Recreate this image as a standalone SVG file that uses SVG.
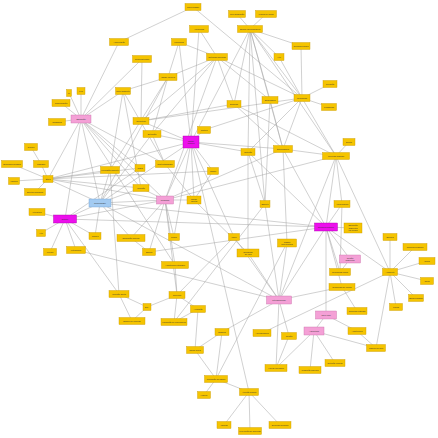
<svg xmlns="http://www.w3.org/2000/svg" width="438" height="438" viewBox="0 0 438 438">
<style>
rect{stroke-width:0.4}
.y rect{fill:#f5c400;stroke:#c99a00}
.p rect{fill:#f4a0d6;stroke:#c870a8}
.m rect{fill:#ec10ec;stroke:#a800a8}
.b rect{fill:#a3cbf2;stroke:#6f9ed0}
text{font-family:"Liberation Sans",Arial,sans-serif;font-size:2.1px;fill:#333;text-anchor:middle}
#edges line{stroke:#a3a3a3;stroke-width:0.5}
</style>
<rect width="438" height="438" fill="#fff" stroke="none"/>
<g id="edges">
<line x1="193" y1="7" x2="119" y2="42"/><line x1="193" y1="7" x2="302" y2="98"/>
<line x1="237" y1="14" x2="250" y2="29"/><line x1="266" y1="14" x2="250" y2="29"/>
<line x1="250" y1="29" x2="234" y2="104"/><line x1="250" y1="29" x2="270" y2="100"/><line x1="250" y1="29" x2="302" y2="98"/><line x1="250" y1="29" x2="248" y2="152"/><line x1="250" y1="29" x2="283" y2="149"/><line x1="250" y1="29" x2="265" y2="204"/><line x1="250" y1="29" x2="191" y2="142"/><line x1="250" y1="29" x2="336" y2="156"/><line x1="250" y1="29" x2="301" y2="46"/><line x1="250" y1="29" x2="279" y2="57"/>
<line x1="199" y1="29" x2="217" y2="57"/><line x1="199" y1="29" x2="191" y2="142"/>
<line x1="179" y1="42" x2="217" y2="57"/><line x1="179" y1="42" x2="168" y2="77"/><line x1="179" y1="42" x2="191" y2="142"/>
<line x1="217" y1="57" x2="168" y2="77"/><line x1="217" y1="57" x2="302" y2="98"/><line x1="217" y1="57" x2="270" y2="100"/><line x1="217" y1="57" x2="234" y2="104"/><line x1="217" y1="57" x2="141" y2="121"/><line x1="217" y1="57" x2="152" y2="134"/><line x1="217" y1="57" x2="165" y2="200"/>
<line x1="279" y1="57" x2="302" y2="98"/><line x1="301" y1="46" x2="302" y2="98"/><line x1="330" y1="84" x2="302" y2="98"/><line x1="329" y1="107" x2="302" y2="98"/>
<line x1="302" y1="98" x2="248" y2="152"/><line x1="302" y1="98" x2="283" y2="149"/><line x1="302" y1="98" x2="336" y2="156"/><line x1="302" y1="98" x2="204" y2="130"/><line x1="302" y1="98" x2="141" y2="121"/>
<line x1="142" y1="59" x2="141" y2="121"/><line x1="142" y1="59" x2="81" y2="119"/>
<line x1="168" y1="77" x2="123" y2="91"/><line x1="168" y1="77" x2="152" y2="134"/><line x1="168" y1="77" x2="110" y2="170"/><line x1="168" y1="77" x2="100" y2="203"/>
<line x1="123" y1="91" x2="81" y2="119"/><line x1="123" y1="91" x2="110" y2="170"/><line x1="123" y1="91" x2="165" y2="164"/><line x1="123" y1="91" x2="141" y2="188"/>
<line x1="69" y1="93" x2="81" y2="119"/><line x1="81" y1="91" x2="81" y2="119"/><line x1="61" y1="103" x2="81" y2="119"/><line x1="119" y1="42" x2="81" y2="119"/>
<line x1="81" y1="119" x2="57" y2="122"/><line x1="81" y1="119" x2="48" y2="179"/><line x1="81" y1="119" x2="100" y2="203"/><line x1="81" y1="119" x2="165" y2="200"/><line x1="81" y1="119" x2="65" y2="219"/><line x1="81" y1="119" x2="141" y2="188"/><line x1="81" y1="119" x2="140" y2="168"/><line x1="81" y1="119" x2="165" y2="164"/><line x1="81" y1="119" x2="175" y2="265"/>
<line x1="141" y1="121" x2="191" y2="142"/><line x1="141" y1="121" x2="234" y2="104"/>
<line x1="152" y1="134" x2="191" y2="142"/><line x1="152" y1="134" x2="165" y2="164"/><line x1="152" y1="134" x2="100" y2="203"/>
<line x1="204" y1="130" x2="191" y2="142"/>
<line x1="191" y1="142" x2="248" y2="152"/><line x1="191" y1="142" x2="283" y2="149"/><line x1="191" y1="142" x2="165" y2="200"/><line x1="191" y1="142" x2="194" y2="200"/><line x1="191" y1="142" x2="100" y2="203"/><line x1="191" y1="142" x2="48" y2="179"/><line x1="191" y1="142" x2="213" y2="171"/><line x1="191" y1="142" x2="249" y2="392"/><line x1="191" y1="142" x2="174" y2="237"/>
<line x1="234" y1="104" x2="336" y2="156"/><line x1="234" y1="104" x2="283" y2="149"/>
<line x1="270" y1="100" x2="283" y2="149"/><line x1="270" y1="100" x2="265" y2="204"/>
<line x1="248" y1="152" x2="265" y2="204"/><line x1="248" y1="152" x2="248" y2="253"/><line x1="248" y1="152" x2="326" y2="227"/>
<line x1="283" y1="149" x2="336" y2="156"/><line x1="283" y1="149" x2="165" y2="200"/><line x1="283" y1="149" x2="287" y2="243"/><line x1="283" y1="149" x2="326" y2="227"/>
<line x1="349" y1="142" x2="336" y2="156"/>
<line x1="336" y1="156" x2="326" y2="227"/><line x1="336" y1="156" x2="390" y2="272"/><line x1="336" y1="156" x2="342" y2="204"/><line x1="336" y1="156" x2="279" y2="300"/><line x1="336" y1="156" x2="165" y2="200"/>
<line x1="31" y1="147" x2="41" y2="164"/><line x1="12" y1="164" x2="48" y2="179"/><line x1="41" y1="164" x2="48" y2="179"/><line x1="14" y1="181" x2="48" y2="179"/><line x1="35" y1="192" x2="48" y2="179"/>
<line x1="48" y1="179" x2="100" y2="203"/><line x1="48" y1="179" x2="165" y2="200"/><line x1="48" y1="179" x2="141" y2="188"/><line x1="48" y1="179" x2="140" y2="168"/><line x1="48" y1="179" x2="110" y2="170"/><line x1="48" y1="179" x2="213" y2="171"/>
<line x1="110" y1="170" x2="100" y2="203"/><line x1="110" y1="170" x2="119" y2="294"/>
<line x1="141" y1="188" x2="100" y2="203"/><line x1="141" y1="188" x2="165" y2="200"/>
<line x1="100" y1="203" x2="65" y2="219"/><line x1="100" y1="203" x2="95" y2="236"/><line x1="100" y1="203" x2="131" y2="238"/><line x1="100" y1="203" x2="165" y2="200"/><line x1="100" y1="203" x2="279" y2="300"/><line x1="100" y1="203" x2="326" y2="227"/>
<line x1="165" y1="200" x2="194" y2="200"/><line x1="165" y1="200" x2="175" y2="265"/><line x1="165" y1="200" x2="131" y2="238"/><line x1="165" y1="200" x2="177" y2="295"/><line x1="165" y1="200" x2="174" y2="237"/><line x1="165" y1="200" x2="149" y2="252"/>
<line x1="265" y1="204" x2="279" y2="300"/><line x1="265" y1="204" x2="174" y2="322"/>
<line x1="342" y1="204" x2="340" y2="272"/><line x1="342" y1="204" x2="326" y2="227"/>
<line x1="37" y1="212" x2="65" y2="219"/>
<line x1="65" y1="219" x2="41" y2="233"/><line x1="65" y1="219" x2="50" y2="252"/><line x1="65" y1="219" x2="76" y2="250"/><line x1="65" y1="219" x2="95" y2="236"/><line x1="65" y1="219" x2="326" y2="227"/><line x1="65" y1="219" x2="140" y2="168"/><line x1="65" y1="219" x2="165" y2="200"/><line x1="65" y1="219" x2="119" y2="294"/>
<line x1="326" y1="227" x2="353" y2="228"/><line x1="326" y1="227" x2="350" y2="259"/><line x1="326" y1="227" x2="340" y2="272"/><line x1="326" y1="227" x2="390" y2="272"/><line x1="326" y1="227" x2="326" y2="315"/><line x1="326" y1="227" x2="342" y2="287"/><line x1="326" y1="227" x2="279" y2="300"/><line x1="326" y1="227" x2="149" y2="252"/>
<line x1="131" y1="238" x2="149" y2="252"/>
<line x1="234" y1="237" x2="191" y2="142"/><line x1="234" y1="237" x2="279" y2="300"/><line x1="234" y1="237" x2="177" y2="295"/>
<line x1="287" y1="243" x2="279" y2="300"/><line x1="287" y1="243" x2="216" y2="379"/>
<line x1="248" y1="253" x2="279" y2="300"/><line x1="248" y1="253" x2="194" y2="200"/>
<line x1="76" y1="250" x2="279" y2="300"/>
<line x1="175" y1="265" x2="177" y2="295"/>
<line x1="390" y1="237" x2="390" y2="272"/><line x1="415" y1="247" x2="390" y2="272"/><line x1="427" y1="261" x2="390" y2="272"/><line x1="427" y1="281" x2="390" y2="272"/><line x1="416" y1="298" x2="390" y2="272"/><line x1="396" y1="307" x2="390" y2="272"/>
<line x1="350" y1="259" x2="340" y2="272"/>
<line x1="390" y1="272" x2="262" y2="333"/><line x1="390" y1="272" x2="376" y2="348"/>
<line x1="342" y1="287" x2="279" y2="300"/><line x1="342" y1="287" x2="357" y2="311"/>
<line x1="119" y1="294" x2="147" y2="307"/><line x1="119" y1="294" x2="132" y2="321"/>
<line x1="147" y1="307" x2="132" y2="321"/><line x1="147" y1="307" x2="177" y2="295"/>
<line x1="177" y1="295" x2="174" y2="322"/><line x1="177" y1="295" x2="198" y2="309"/>
<line x1="198" y1="309" x2="174" y2="322"/><line x1="198" y1="309" x2="195" y2="350"/>
<line x1="222" y1="332" x2="195" y2="350"/><line x1="222" y1="332" x2="216" y2="379"/><line x1="222" y1="332" x2="279" y2="300"/>
<line x1="289" y1="336" x2="279" y2="300"/><line x1="289" y1="336" x2="276" y2="368"/>
<line x1="314" y1="331" x2="335" y2="363"/><line x1="314" y1="331" x2="310" y2="370"/><line x1="314" y1="331" x2="376" y2="348"/><line x1="314" y1="331" x2="276" y2="368"/><line x1="314" y1="331" x2="326" y2="315"/>
<line x1="357" y1="331" x2="376" y2="348"/><line x1="357" y1="331" x2="326" y2="315"/>
<line x1="195" y1="350" x2="216" y2="379"/>
<line x1="216" y1="379" x2="204" y2="395"/><line x1="216" y1="379" x2="249" y2="392"/>
<line x1="249" y1="392" x2="224" y2="425"/><line x1="249" y1="392" x2="250" y2="431"/><line x1="249" y1="392" x2="280" y2="425"/>
<line x1="276" y1="368" x2="279" y2="300"/>
<line x1="165" y1="164" x2="194" y2="200"/><line x1="213" y1="171" x2="194" y2="200"/>
</g>
<g id="a1" class="y"><rect x="185" y="3.5" width="16" height="7"/><text x="193" y="7.75">Universidade</text></g>
<g id="a2" class="y"><rect x="228.5" y="10.5" width="17" height="7"/><text x="237" y="14.75">Pós-graduação</text></g>
<g id="a3" class="y"><rect x="255.5" y="10.5" width="21" height="7"/><text x="266" y="14.75">Língua de sinais</text></g>
<g id="a4" class="y"><rect x="237.5" y="25.5" width="25" height="7"/><text x="250" y="29.75">Ensino-aprendizagem</text></g>
<g id="a5" class="y"><rect x="189.5" y="25.5" width="19" height="7"/><text x="199" y="29.75">Agronomia</text></g>
<g id="a6" class="y"><rect x="109.5" y="38.5" width="19" height="7"/><text x="119" y="42.75">Alimentação</text></g>
<g id="a7" class="y"><rect x="171.5" y="38.5" width="15" height="7"/><text x="179" y="42.75">Psicologia</text></g>
<g id="a8" class="y"><rect x="132.5" y="55.5" width="19" height="7"/><text x="142" y="59.75">Cooperativismo</text></g>
<g id="a9" class="y"><rect x="206.5" y="53.5" width="21" height="7"/><text x="217" y="57.75">Sistemas agrícolas</text></g>
<g id="a10" class="y"><rect x="274" y="53.5" width="10" height="7"/><text x="279" y="57.75">Arte</text></g>
<g id="a11" class="y"><rect x="292" y="42.5" width="18" height="7"/><text x="301" y="46.75">Ciências sociais</text></g>
<g id="a12" class="y"><rect x="159" y="73.5" width="18" height="7"/><text x="168" y="77.75">Saúde coletiva</text></g>
<g id="a13" class="y"><rect x="115.5" y="87.5" width="15" height="7"/><text x="123" y="91.75">Meio ambiente</text></g>
<g id="a14" class="y"><rect x="66.5" y="89.5" width="5" height="7"/><text x="69" y="93.75">TI</text></g>
<g id="a15" class="y"><rect x="77" y="87.5" width="8" height="7"/><text x="81" y="91.75">Lixo</text></g>
<g id="a16" class="y"><rect x="52" y="99.5" width="18" height="7"/><text x="61" y="103.75">Comunicação</text></g>
<g id="a17" class="p"><rect x="71" y="115" width="20" height="8"/><text x="81" y="119.75">Educação</text></g>
<g id="a18" class="y"><rect x="48.5" y="118.5" width="17" height="7"/><text x="57" y="122.75">Cidadania</text></g>
<g id="a19" class="y"><rect x="133" y="117.5" width="16" height="7"/><text x="141" y="121.75">Juventude</text></g>
<g id="a20" class="y"><rect x="143" y="130.5" width="18" height="7"/><text x="152" y="134.75">Extensão</text></g>
<g id="a21" class="y"><rect x="197.5" y="126.5" width="13" height="7"/><text x="204" y="130.75">Cultura</text></g>
<g id="a22" class="m"><rect x="183" y="136" width="16" height="12"/><text x="191" y="141.5">Saúde</text><text x="191" y="144">pública</text></g>
<g id="a23" class="y"><rect x="227" y="100.5" width="14" height="7"/><text x="234" y="104.75">Ecologia</text></g>
<g id="a24" class="y"><rect x="262" y="96.5" width="16" height="7"/><text x="270" y="100.75">Engenharia</text></g>
<g id="a25" class="y"><rect x="294" y="94.5" width="16" height="7"/><text x="302" y="98.75">Tecnologia</text></g>
<g id="a26" class="y"><rect x="323" y="80.5" width="14" height="7"/><text x="330" y="84.75">Inovação</text></g>
<g id="a27" class="y"><rect x="321.5" y="103.5" width="15" height="7"/><text x="329" y="107.75">Pedagogia</text></g>
<g id="a28" class="y"><rect x="241" y="148.5" width="14" height="7"/><text x="248" y="152.75">Nutrição</text></g>
<g id="a29" class="y"><rect x="273.5" y="145.5" width="19" height="7"/><text x="283" y="149.75">Enfermagem</text></g>
<g id="a30" class="y"><rect x="343" y="138.5" width="12" height="7"/><text x="349" y="142.75">Direito</text></g>
<g id="a31" class="y"><rect x="322.5" y="152.5" width="27" height="7"/><text x="336" y="156.75">Políticas públicas</text></g>
<g id="a32" class="y"><rect x="24.5" y="143.5" width="13" height="7"/><text x="31" y="147.75">Gênero</text></g>
<g id="a33" class="y"><rect x="1.5" y="160.5" width="21" height="7"/><text x="12" y="164.75">Economia solidária</text></g>
<g id="a34" class="y"><rect x="33.5" y="160.5" width="15" height="7"/><text x="41" y="164.75">Trabalho</text></g>
<g id="a35" class="y"><rect x="155.5" y="160.5" width="19" height="7"/><text x="165" y="164.75">Sustentabilidade</text></g>
<g id="a36" class="y"><rect x="207.5" y="167.5" width="11" height="7"/><text x="213" y="171.75">Idosos</text></g>
<g id="a37" class="y"><rect x="135" y="164.5" width="10" height="7"/><text x="140" y="168.75">Mídia</text></g>
<g id="a38" class="y"><rect x="100.5" y="166.5" width="19" height="7"/><text x="110" y="170.75">Formação docente</text></g>
<g id="a39" class="y"><rect x="43" y="175.5" width="10" height="7"/><text x="48" y="179.75">Ética</text></g>
<g id="a40" class="y"><rect x="8.5" y="177.5" width="11" height="7"/><text x="14" y="181.75">Família</text></g>
<g id="a41" class="y"><rect x="24.5" y="188.5" width="21" height="7"/><text x="35" y="192.75">Direitos humanos</text></g>
<g id="a42" class="y"><rect x="133" y="184.5" width="16" height="7"/><text x="141" y="188.75">Inclusão</text></g>
<g id="a43" class="b"><rect x="89" y="199" width="22" height="8"/><text x="100" y="203.75">Comunidade</text></g>
<g id="a44" class="p"><rect x="156.5" y="196" width="17" height="8"/><text x="165" y="200.75">Pesquisa</text></g>
<g id="a45" class="y"><rect x="187" y="196" width="14" height="8"/><text x="194" y="199.5">Saúde</text><text x="194" y="202">mental</text></g>
<g id="a46" class="y"><rect x="260" y="200.5" width="10" height="7"/><text x="265" y="204.75">Esporte</text></g>
<g id="a47" class="y"><rect x="334" y="200.5" width="16" height="7"/><text x="342" y="204.75">Agroecologia</text></g>
<g id="a48" class="y"><rect x="29" y="208.5" width="16" height="7"/><text x="37" y="212.75">Literatura</text></g>
<g id="a49" class="m"><rect x="53.5" y="215" width="23" height="8"/><text x="65" y="219.75">Ensino</text></g>
<g id="a50" class="m"><rect x="314.5" y="223" width="23" height="8"/><text x="326" y="227.75">Desenvolvimento</text></g>
<g id="a51" class="y"><rect x="344" y="223" width="18" height="10"/><text x="353" y="226.25">Educação</text><text x="353" y="228.75">ambiental</text><text x="353" y="231.25">na escola</text></g>
<g id="a52" class="y"><rect x="36.5" y="229.5" width="9" height="7"/><text x="41" y="233.75">Arte</text></g>
<g id="a53" class="y"><rect x="89" y="232.5" width="12" height="7"/><text x="95" y="236.75">Música</text></g>
<g id="a54" class="y"><rect x="117" y="234.5" width="28" height="7"/><text x="131" y="238.75">Educação popular</text></g>
<g id="a55" class="y"><rect x="168.5" y="233.5" width="11" height="7"/><text x="174" y="237.75">Teatro</text></g>
<g id="a56" class="y"><rect x="228.5" y="233.5" width="11" height="7"/><text x="234" y="237.75">Lazer</text></g>
<g id="a57" class="y"><rect x="277.5" y="239" width="19" height="8"/><text x="287" y="242.5">Cidade</text><text x="287" y="245">Universitária</text></g>
<g id="a58" class="y"><rect x="237" y="249" width="22" height="8"/><text x="248" y="252.5">Qualidade</text><text x="248" y="255">de vida</text></g>
<g id="a59" class="y"><rect x="43.5" y="248.5" width="13" height="7"/><text x="50" y="252.75">Leitura</text></g>
<g id="a60" class="y"><rect x="66.5" y="246.5" width="19" height="7"/><text x="76" y="250.75">Letramento</text></g>
<g id="a61" class="y"><rect x="142.5" y="248.5" width="13" height="7"/><text x="149" y="252.75">Escola</text></g>
<g id="a62" class="y"><rect x="161.5" y="261.5" width="27" height="7"/><text x="175" y="265.75">Assistência estudantil</text></g>
<g id="a63" class="y"><rect x="383" y="233.5" width="14" height="7"/><text x="390" y="237.75">Energia</text></g>
<g id="a64" class="y"><rect x="403" y="243.5" width="24" height="7"/><text x="415" y="247.75">Recursos hídricos</text></g>
<g id="a65" class="y"><rect x="419" y="257.5" width="16" height="7"/><text x="427" y="261.75">Clima</text></g>
<g id="a66" class="p"><rect x="339.5" y="255" width="21" height="8"/><text x="350" y="258.5">Gestão</text><text x="350" y="261">ambiental</text></g>
<g id="a67" class="y"><rect x="329.5" y="268.5" width="21" height="7"/><text x="340" y="272.75">Tecnologia social</text></g>
<g id="a68" class="y"><rect x="382.5" y="268.5" width="15" height="7"/><text x="390" y="272.75">Ambiente</text></g>
<g id="a69" class="y"><rect x="420.5" y="277.5" width="13" height="7"/><text x="427" y="281.75">Solos</text></g>
<g id="a70" class="y"><rect x="329" y="283.5" width="26" height="7"/><text x="342" y="287.75">Tecnologia de ensino</text></g>
<g id="a71" class="y"><rect x="408.5" y="294.5" width="15" height="7"/><text x="416" y="298.75">Biodiversidade</text></g>
<g id="a72" class="y"><rect x="109" y="290.5" width="20" height="7"/><text x="119" y="294.75">Inclusão digital</text></g>
<g id="a73" class="y"><rect x="169" y="291.5" width="16" height="7"/><text x="177" y="295.75">Currículo</text></g>
<g id="a74" class="p"><rect x="266.5" y="296" width="25" height="8"/><text x="279" y="300.75">Interdisciplinar</text></g>
<g id="a75" class="y"><rect x="190.5" y="305.5" width="15" height="7"/><text x="198" y="309.75">Avaliação</text></g>
<g id="a76" class="y"><rect x="389.5" y="303.5" width="13" height="7"/><text x="396" y="307.75">Fauna</text></g>
<g id="a77" class="y"><rect x="143" y="303.5" width="8" height="7"/><text x="147" y="307.75">EJA</text></g>
<g id="a78" class="y"><rect x="347" y="307.5" width="20" height="7"/><text x="357" y="311.75">Recursos naturais</text></g>
<g id="a79" class="p"><rect x="315.5" y="311" width="21" height="8"/><text x="326" y="315.75">Meio rural</text></g>
<g id="a80" class="y"><rect x="119" y="317.5" width="26" height="7"/><text x="132" y="321.75">Ensino de ciências</text></g>
<g id="a81" class="y"><rect x="161" y="318.5" width="26" height="7"/><text x="174" y="322.75">Formação de professores</text></g>
<g id="a82" class="y"><rect x="215" y="328.5" width="14" height="7"/><text x="222" y="332.75">Didática</text></g>
<g id="a83" class="y"><rect x="253" y="329.5" width="18" height="7"/><text x="262" y="333.75">Aprendizagem</text></g>
<g id="a84" class="y"><rect x="281.5" y="332.5" width="15" height="7"/><text x="289" y="336.75">Gestão</text></g>
<g id="a85" class="p"><rect x="304" y="327" width="20" height="8"/><text x="314" y="331.75">Agricultura</text></g>
<g id="a86" class="y"><rect x="348" y="327.5" width="18" height="7"/><text x="357" y="331.75">Agrotóxicos</text></g>
<g id="a87" class="y"><rect x="366.5" y="344.5" width="19" height="7"/><text x="376" y="348.75">Manejo do solo</text></g>
<g id="a88" class="y"><rect x="186.5" y="346.5" width="17" height="7"/><text x="195" y="350.75">Saúde bucal</text></g>
<g id="a89" class="y"><rect x="325" y="359.5" width="20" height="7"/><text x="335" y="363.75">Nutrição escolar</text></g>
<g id="a90" class="y"><rect x="299" y="366.5" width="22" height="7"/><text x="310" y="370.75">Produção agrícola</text></g>
<g id="a91" class="y"><rect x="265" y="364.5" width="22" height="7"/><text x="276" y="368.75">Hortas escolares</text></g>
<g id="a92" class="y"><rect x="204.5" y="375.5" width="23" height="7"/><text x="216" y="379.75">Promoção da saúde</text></g>
<g id="a93" class="y"><rect x="197.5" y="391.5" width="13" height="7"/><text x="204" y="395.75">Higiene</text></g>
<g id="a94" class="y"><rect x="239.5" y="388.5" width="19" height="7"/><text x="249" y="392.75">Atenção básica</text></g>
<g id="a95" class="y"><rect x="217" y="421.5" width="14" height="7"/><text x="224" y="425.75">Vacinas</text></g>
<g id="a96" class="y"><rect x="238.5" y="427.5" width="23" height="7"/><text x="250" y="431.75">Prevenção de doenças</text></g>
<g id="a97" class="y"><rect x="269" y="421.5" width="22" height="7"/><text x="280" y="425.75">Doenças crônicas</text></g>
</svg>
